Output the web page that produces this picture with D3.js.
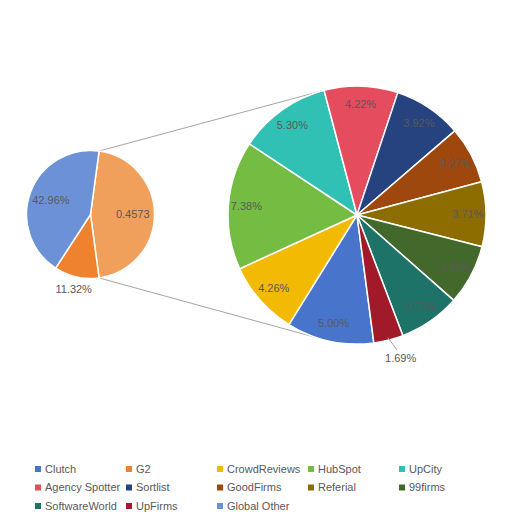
<!DOCTYPE html>
<html>
<head>
<meta charset="utf-8">
<script src="https://cdn.jsdelivr.net/npm/d3@7"></script>
<style>
  body { margin: 0; background: #fff; }
  text { font-family: "Liberation Sans", Arial, sans-serif; }
</style>
</head>
<body>
<div id="chart"></div>
<script>
// shares in percent, in the sheet's row order
var names = ["Clutch", "G2", "CrowdReviews", "HubSpot", "UpCity", "Agency Spotter",
             "Sortlist", "GoodFirms", "Referial", "99firms", "SoftwareWorld", "UpFirms", "Global Other"];
var shares = [5.00, 11.32, 4.26, 7.38, 5.30, 4.22, 3.92, 3.27, 3.71, 3.45, 3.53, 1.69, 42.96];
var colors = ["#4874cb", "#ee822f", "#f2ba02", "#75bd42", "#30c0b4", "#e54c5e",
              "#264380", "#9e480e", "#8e6d00", "#43682b", "#1d7367", "#a01a2a", "#6d91d6"];
// which rows are pulled into the second pie
var inSecond = [true, false, true, true, true, true, true, true, true, true, true, true, false];
var firstOrder = ["Other", "G2", "Global Other"];
var otherLabel = "0.4573";
var otherColor = "#f1a05b";
var outsideLabels = ["G2", "UpFirms"];

(function() {
  "use strict";

  var width = 515,
      height = 515;

  var rows = names.map(function(n, i) {
    return { name: n, value: shares[i], color: colors[i], second: inSecond[i] };
  });
  var secondRows = rows.filter(function(d) { return d.second; });
  var otherValue = d3.sum(secondRows, function(d) { return d.value; });
  var firstRows = firstOrder.map(function(n) {
    if (n === "Other") return { name: n, value: otherValue, color: otherColor, label: otherLabel };
    return rows.filter(function(d) { return d.name === n; })[0];
  });

  var fmt = d3.format(".2%");
  var deg = Math.PI / 180;

  var svg = d3.select("#chart").append("svg")
      .attr("width", width)
      .attr("height", height);

  var p1 = { x: 90.5, y: 214.5, r: 64, labelR: 0.66 },
      p2 = { x: 357, y: 215, r: 129, labelR: 0.86 };

  // first pie: the "Other" slice faces the second pie
  var otherSpan = otherValue / d3.sum(firstRows, function(d) { return d.value; }) * 2 * Math.PI;
  var start1 = Math.PI / 2 - otherSpan / 2;
  var pie1 = d3.pie().sort(null).value(function(d) { return d.value; })
      .startAngle(start1).endAngle(start1 + 2 * Math.PI);
  var start2 = 172.5 * deg;
  var pie2 = d3.pie().sort(null).value(function(d) { return d.value; })
      .startAngle(start2).endAngle(start2 + 2 * Math.PI);

  var arcs1 = pie1(firstRows),
      arcs2 = pie2(secondRows);

  // connector lines: from the Other slice edges, tangent to the second pie
  var otherArc = arcs1[0];
  function edgePoint(a) {
    return [p1.x + p1.r * Math.sin(a), p1.y - p1.r * Math.cos(a)];
  }
  function tangent(pt, side) {
    var dx = p2.x - pt[0], dy = p2.y - pt[1],
        d = Math.sqrt(dx * dx + dy * dy),
        base = Math.atan2(dy, dx),
        off = Math.asin(p2.r / d),
        len = Math.sqrt(d * d - p2.r * p2.r),
        a = base + side * off;
    return [pt[0] + len * Math.cos(a), pt[1] + len * Math.sin(a)];
  }
  var top = edgePoint(otherArc.startAngle),
      bot = edgePoint(otherArc.endAngle);
  svg.append("g").selectAll("line")
      .data([[top, tangent(top, -1)], [bot, tangent(bot, 1)]])
    .enter().append("line")
      .attr("x1", function(d) { return d[0][0]; })
      .attr("y1", function(d) { return d[0][1]; })
      .attr("x2", function(d) { return d[1][0]; })
      .attr("y2", function(d) { return d[1][1]; })
      .attr("stroke", "#a6a6a6")
      .attr("stroke-width", 1);

  function drawPie(p, arcs) {
    var g = svg.append("g")
        .attr("transform", "translate(" + p.x + "," + p.y + ")");
    var arc = d3.arc().innerRadius(0).outerRadius(p.r);
    g.selectAll("path")
        .data(arcs)
      .enter().append("path")
        .attr("d", arc)
        .attr("fill", function(d) { return d.data.color; })
        .attr("stroke", "#fff")
        .attr("stroke-width", 1.5)
        .attr("stroke-linejoin", "round");

    var inner = d3.arc().innerRadius(p.r * p.labelR).outerRadius(p.r * p.labelR);
    var outer = d3.arc().innerRadius(p.r * 1.2).outerRadius(p.r * 1.2);
    arcs.forEach(function(d) {
      var out = outsideLabels.indexOf(d.data.name) >= 0;
      var c = (out ? outer : inner).centroid(d);
      if (out && p === p2) {
        var a = (d.startAngle + d.endAngle) / 2;
        g.append("line")
            .attr("x1", p.r * 0.98 * Math.sin(a))
            .attr("y1", -p.r * 0.98 * Math.cos(a))
            .attr("x2", p.r * 1.08 * Math.sin(a) + 6)
            .attr("y2", -p.r * 1.08 * Math.cos(a))
            .attr("stroke", "#a6a6a6");
        c = [p.r * 1.13 * Math.sin(a) + 8, -p.r * 1.13 * Math.cos(a) + 2];
      }
      g.append("text")
          .attr("x", c[0])
          .attr("y", c[1])
          .attr("dy", "0.35em")
          .attr("text-anchor", "middle")
          .attr("font-size", 11)
          .attr("fill", "#595959")
          .text(d.data.label || fmt(d.data.value / 100));
    });
  }
  drawPie(p1, arcs1);
  drawPie(p2, arcs2);

  // legend, 5 per row
  var cols = 5, colW = 91, rowH = 18.5, lx = 35, ly = 469;
  var leg = svg.append("g").selectAll("g")
      .data(rows)
    .enter().append("g")
      .attr("transform", function(d, i) {
        return "translate(" + (lx + (i % cols) * colW) + "," + (ly + Math.floor(i / cols) * rowH) + ")";
      });
  leg.append("rect")
      .attr("y", -3)
      .attr("width", 6)
      .attr("height", 6)
      .attr("fill", function(d) { return d.color; });
  leg.append("text")
      .attr("x", 10)
      .attr("dy", "0.35em")
      .attr("font-size", 11)
      .attr("fill", "#595959")
      .text(function(d) { return d.name; });
})();
</script>
</body>
</html>
